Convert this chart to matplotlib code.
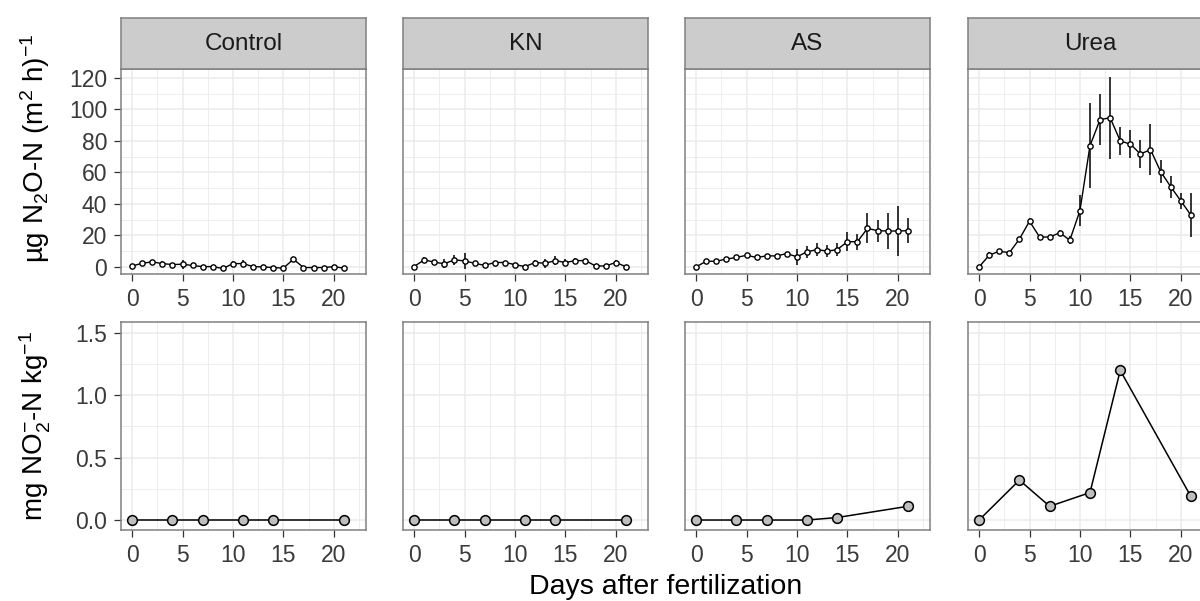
import numpy as np
import matplotlib
matplotlib.use('Agg')
import matplotlib.pyplot as plt
from matplotlib.ticker import MultipleLocator, FormatStrFormatter

plt.rcParams['font.family'] = ['Liberation Sans', 'DejaVu Sans']
plt.rcParams['mathtext.fontset'] = 'custom'
plt.rcParams['mathtext.rm'] = 'Liberation Sans'
plt.rcParams['mathtext.it'] = 'Liberation Sans:italic'
plt.rcParams['mathtext.default'] = 'rm'

# N2O flux data (daily)
treatments = ['Control', 'KN', 'AS', 'Urea']
days_flux = list(range(22))
control_flux = [0.6, 2.3, 3.2, 2.1, 1.5, 1.7, 0.9, 0.2, 0.2, -1.0, 2.1, 2.1,
                0.2, 0.0, -0.4, -0.8, 4.9, -0.4, -0.4, -0.4, 0.2, -0.8]
control_se = [0.5, 1, 1, 1.5, 1, 3, 1.5, 0.5, 0.5, 0.5, 1.5, 2,
              0.5, 0.5, 0.5, 1, 1.5, 1, 0.5, 0.5, 1, 0.5]
kn_flux = [0.2, 4.5, 3.0, 2.0, 4.5, 3.8, 2.3, 1.0, 2.8, 2.8, 1.5, 0.2,
           2.8, 2.3, 4.0, 2.8, 4.0, 4.0, 0.6, 0.6, 2.8, 0.2]
kn_se = [0.5, 2, 1, 3, 3, 5, 1.5, 1, 1, 0.5, 1, 0.5,
         1.5, 3, 3, 2, 1.5, 1, 0.5, 0.5, 1.5, 0.5]
as_flux = [0.0, 3.6, 3.6, 5.0, 6.0, 7.4, 6.0, 7.0, 7.0, 8.5, 6.4, 9.6,
           11.0, 10.0, 11.0, 16.0, 16.0, 24.5, 23.0, 22.8, 22.8, 23.0]
as_se = [0.5, 1, 1.5, 1, 1, 1, 1, 1, 1, 1, 5, 4,
         4, 4, 4, 6, 5, 9.6, 7, 11.7, 16, 8]
urea_flux = [0.0, 7.4, 10.0, 9.0, 17.7, 29.0, 19.0, 19.0, 21.7, 17.0, 35.7, 77.0,
             93.6, 94.7, 80.0, 78.0, 71.7, 74.5, 60.6, 51.0, 42.0, 33.0]
urea_se = [0.5, 2, 1, 1, 1.5, 2, 1.5, 1, 2, 2.5, 10, 27,
           16, 26, 9, 9, 9, 16, 7, 7, 5, 14]

# NO2- concentration data (sampling days)
days_no2 = [0, 4, 7, 11, 14, 21]
control_no2 = [0, 0, 0, 0, 0, 0]
kn_no2 = [0, 0, 0, 0, 0, 0]
as_no2 = [0, 0, 0, 0, 0.02, 0.11]
urea_no2 = [0, 0.32, 0.11, 0.22, 1.20, 0.19]

flux = [control_flux, kn_flux, as_flux, urea_flux]
flux_se = [control_se, kn_se, as_se, urea_se]
no2 = [control_no2, kn_no2, as_no2, urea_no2]

W, H = 1200, 601
fig = plt.figure(figsize=(12, 6.01), dpi=100)

lefts = [121, 403, 685, 968]
pw = 245
top_row = (69, 274)
bot_row = (322, 530)
strip_top = 18

grid_c = '#EBEBEB'
border_c = '#808080'
tick_c = '#3A3A3A'


def style(ax, show_y):
    ax.set_xlim(-1.1, 23.2)
    ax.xaxis.set_major_locator(MultipleLocator(5))
    ax.xaxis.set_minor_locator(MultipleLocator(2.5))
    ax.grid(True, which='major', color=grid_c, lw=1.1, zorder=0)
    ax.grid(True, which='minor', color=grid_c, lw=0.6, zorder=0)
    ax.set_axisbelow(True)
    for s in ax.spines.values():
        s.set_color(border_c)
        s.set_linewidth(1.1)
    ax.tick_params(which='major', length=5, width=0.9, color='#333333',
                   labelsize=16.5, labelcolor=tick_c, pad=5)
    ax.tick_params(which='minor', length=0)
    if not show_y:
        ax.tick_params(axis='y', which='major', length=0, labelleft=False)


def frac(x0, y0, x1, y1):
    return [x0 / W, 1 - y1 / H, (x1 - x0) / W, (y1 - y0) / H]


for i, name in enumerate(treatments):
    x0 = lefts[i]
    # top row: N2O flux
    ax = fig.add_axes(frac(x0, top_row[0], x0 + pw, top_row[1]))
    style(ax, i == 0)
    ax.set_ylim(-4.5, 125.7)
    ax.yaxis.set_major_locator(MultipleLocator(20))
    ax.yaxis.set_minor_locator(MultipleLocator(10))
    ax.errorbar(days_flux, flux[i], yerr=flux_se[i], fmt='none',
                ecolor='black', elinewidth=1.1, capsize=0, zorder=2)
    ax.plot(days_flux, flux[i], color='black', lw=1.0, zorder=3)
    ax.plot(days_flux, flux[i], 'o', ms=3.8, mfc='white', mec='black',
            mew=1.0, zorder=4)

    # facet strip
    sax = fig.add_axes(frac(x0, strip_top, x0 + pw, top_row[0]))
    sax.set_xticks([])
    sax.set_yticks([])
    sax.set_facecolor('#CCCCCC')
    for s in sax.spines.values():
        s.set_color(border_c)
        s.set_linewidth(1.1)
    sax.text(0.5, 0.5, name, ha='center', va='center', fontsize=17.5,
             color='#1A1A1A', transform=sax.transAxes)

    # bottom row: NO2-
    bx = fig.add_axes(frac(x0, bot_row[0], x0 + pw, bot_row[1]))
    style(bx, i == 0)
    bx.set_ylim(-0.08, 1.588)
    bx.yaxis.set_major_locator(MultipleLocator(0.5))
    bx.yaxis.set_minor_locator(MultipleLocator(0.25))
    bx.yaxis.set_major_formatter(FormatStrFormatter('%.1f'))
    bx.plot(days_no2, no2[i], color='black', lw=1.1, zorder=3)
    bx.plot(days_no2, no2[i], 'o', ms=7, mfc='#BEBEBE', mec='black',
            mew=1.1, zorder=4)

fig.text(35 / W, 1 - 148 / H, 'µg N$_2$O-N (m$^2$ h)$^{-1}$', rotation=90,
         ha='center', va='center', fontsize=20)
fig.text(35 / W, 1 - 426 / H, 'mg NO$_2^{-}$-N kg$^{-1}$', rotation=90,
         ha='center', va='center', fontsize=20)
fig.text(666 / W, 1 - 587 / H, 'Days after fertilization', ha='center',
         va='center', fontsize=20.5)

fig.savefig('out.png', dpi=100, facecolor='white')
